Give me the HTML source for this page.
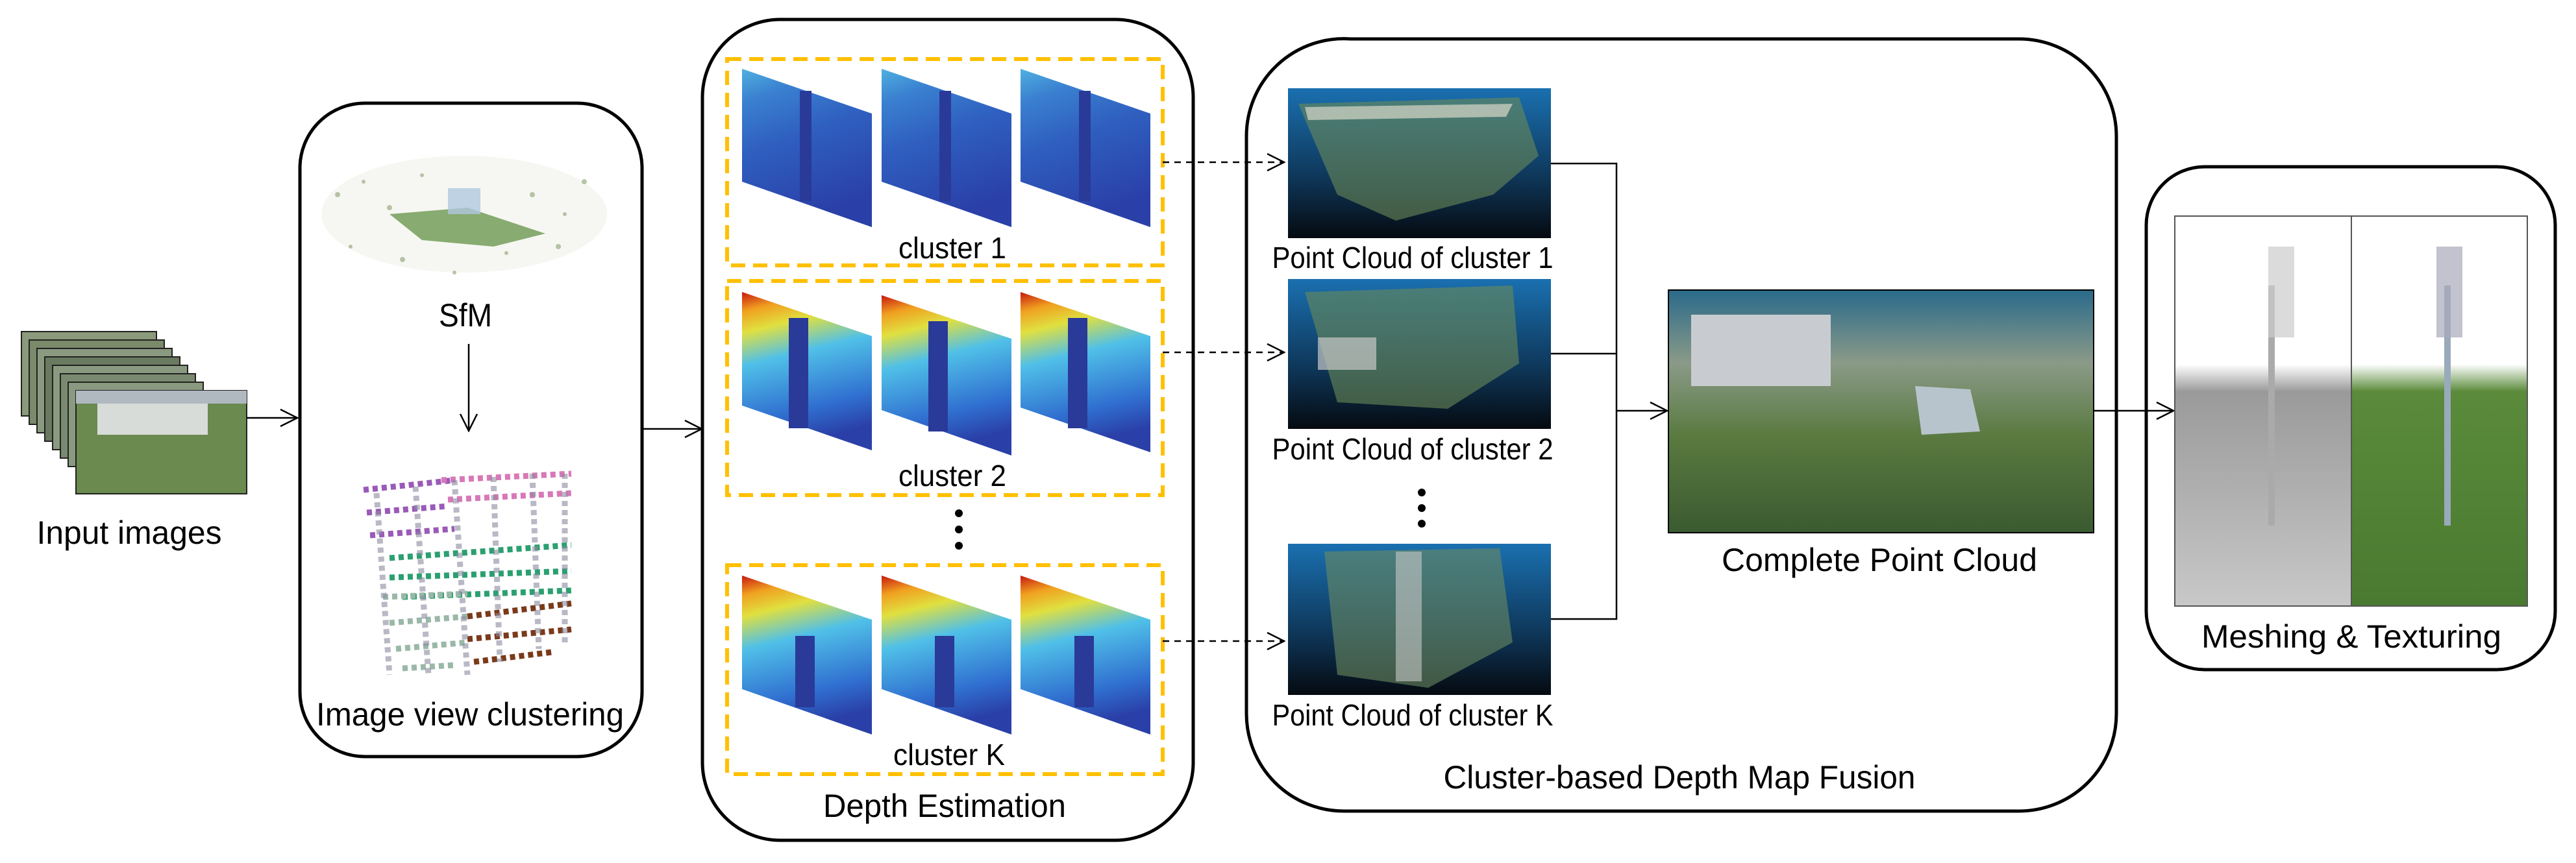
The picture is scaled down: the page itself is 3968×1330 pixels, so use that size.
<!DOCTYPE html>
<html><head><meta charset="utf-8"><style>html,body{margin:0;padding:0;background:#fff}svg{display:block}</style></head>
<body>
<svg width="3968" height="1330" viewBox="0 0 3968 1330" xmlns="http://www.w3.org/2000/svg" font-family="Liberation Sans, sans-serif">
<defs>
<linearGradient id="d1" x1="0" y1="0" x2="0.3" y2="1"><stop offset="0" stop-color="#50b0e0"/><stop offset="0.2" stop-color="#3a80d0"/><stop offset="0.5" stop-color="#2f5fc0"/><stop offset="1" stop-color="#2a40a8"/></linearGradient>
<linearGradient id="d2" x1="0" y1="0" x2="0.2" y2="1"><stop offset="0" stop-color="#c81810"/><stop offset="0.12" stop-color="#f0a020"/><stop offset="0.25" stop-color="#e0e040"/><stop offset="0.45" stop-color="#50c0e8"/><stop offset="0.8" stop-color="#3070d0"/><stop offset="1" stop-color="#2a40a8"/></linearGradient>
<linearGradient id="pc" x1="0" y1="0" x2="0" y2="1"><stop offset="0" stop-color="#1a70b0"/><stop offset="0.6" stop-color="#0e3658"/><stop offset="1" stop-color="#050a10"/></linearGradient>
<linearGradient id="cp" x1="0" y1="0" x2="0" y2="1"><stop offset="0" stop-color="#2a6a8a"/><stop offset="0.3" stop-color="#8a9a88"/><stop offset="0.6" stop-color="#5a7a40"/><stop offset="1" stop-color="#3a5a30"/></linearGradient>
<linearGradient id="mg" x1="0" y1="0" x2="0" y2="1"><stop offset="0" stop-color="#fff"/><stop offset="0.38" stop-color="#fff"/><stop offset="0.45" stop-color="#9a9a9a"/><stop offset="1" stop-color="#c8c8c8"/></linearGradient>
<linearGradient id="mt" x1="0" y1="0" x2="0" y2="1"><stop offset="0" stop-color="#fff"/><stop offset="0.38" stop-color="#fff"/><stop offset="0.45" stop-color="#5a8a3a"/><stop offset="1" stop-color="#4a7a30"/></linearGradient>
<marker id="ah" markerWidth="30" markerHeight="30" refX="28" refY="15" orient="auto" markerUnits="userSpaceOnUse"><path d="M2,2 L28,15 L2,28" fill="none" stroke="#000" stroke-width="2.5"/></marker>
</defs>

<g stroke="#222" stroke-width="2">
<rect x="33" y="511" width="208" height="130" fill="#8a9a7a"/>
<rect x="45" y="524" width="208" height="130" fill="#7a8a6a"/>
<rect x="57" y="537" width="208" height="130" fill="#8a9a80"/>
<rect x="69" y="550" width="208" height="130" fill="#6a7a60"/>
<rect x="81" y="563" width="208" height="130" fill="#8a9a80"/>
<rect x="93" y="576" width="208" height="130" fill="#7a8a70"/>
<rect x="105" y="589" width="208" height="130" fill="#8a9a80"/>
<rect x="117" y="602" width="263" height="159" fill="#6a8a50"/>
</g>
<rect x="150" y="620" width="170" height="50" fill="#d8dcd8"/>
<rect x="117" y="602" width="263" height="20" fill="#b0b8c0"/>
<text x="199" y="838" font-size="50" text-anchor="middle" textLength="285" lengthAdjust="spacingAndGlyphs">Input images</text>
<line x1="380" y1="644" x2="458" y2="644" stroke="#000" stroke-width="2.5" marker-end="url(#ah)"/>

<rect x="462" y="159" width="527" height="1007" rx="100" fill="none" stroke="#000" stroke-width="5"/>
<ellipse cx="715" cy="330" rx="220" ry="90" fill="#f6f7f2"/>
<g fill="#8aa070" opacity="0.6">
<circle cx="520" cy="300" r="4"/><circle cx="560" cy="280" r="3"/><circle cx="600" cy="320" r="4"/><circle cx="650" cy="270" r="3"/><circle cx="820" cy="300" r="4"/><circle cx="870" cy="330" r="3"/><circle cx="900" cy="280" r="4"/><circle cx="540" cy="380" r="3"/><circle cx="620" cy="400" r="4"/><circle cx="780" cy="390" r="3"/><circle cx="860" cy="380" r="4"/><circle cx="700" cy="420" r="3"/>
</g>
<path d="M600,330 L720,320 L840,360 L760,380 L650,370 Z" fill="#5a8a3a" opacity="0.7"/>
<rect x="690" y="290" width="50" height="40" fill="#b0c8e0" opacity="0.8"/>
<text x="717" y="503" font-size="50" text-anchor="middle" textLength="82" lengthAdjust="spacingAndGlyphs">SfM</text>
<line x1="722" y1="530" x2="722" y2="664" stroke="#000" stroke-width="2.5" marker-end="url(#ah)"/>
<g fill="none" stroke-width="9" stroke-dasharray="8 6">
<path d="M560 755 L700 740 M565 790 L690 780 M570 825 L700 815" stroke="#9a5ab8"/>
<path d="M680 740 L880 730 M690 770 L880 760" stroke="#d878b8"/>
<path d="M600 860 L880 840 M600 890 L880 880 M620 920 L880 910" stroke="#2aa070"/>
<path d="M590 920 L720 915 M600 960 L720 950 M610 1000 L720 990 M620 1030 L700 1025" stroke="#9ab8a8"/>
<path d="M720 950 L880 930 M720 985 L880 970 M730 1020 L850 1005" stroke="#7a3a1a"/>
<path d="M580 760 L600 1040 M640 750 L660 1040 M700 740 L720 1040 M760 735 L770 1020 M820 730 L830 1000 M870 730 L870 990" stroke="#8a8aa0" opacity="0.6"/>
</g>
<text x="724" y="1118" font-size="50" text-anchor="middle" textLength="474" lengthAdjust="spacingAndGlyphs">Image view clustering</text>
<line x1="989" y1="661" x2="1081" y2="661" stroke="#000" stroke-width="2.5" marker-end="url(#ah)"/>

<rect x="1082" y="30" width="756" height="1265" rx="120" fill="none" stroke="#000" stroke-width="5"/>
<g fill="none" stroke="#FFC000" stroke-width="6" stroke-dasharray="22 12">
<rect x="1120" y="91" width="671" height="318"/>
<rect x="1120" y="433" width="671" height="330"/>
<rect x="1120" y="871" width="671" height="322"/>
</g>
<g>
<polygon points="1143,106 1343,175 1343,350 1143,280" fill="url(#d1)"/>
<polygon points="1358,106 1558,175 1558,350 1358,280" fill="url(#d1)"/>
<polygon points="1572,106 1772,175 1772,350 1572,280" fill="url(#d1)"/>
<polygon points="1143,450 1343,518 1343,694 1143,625" fill="url(#d2)"/>
<polygon points="1358,455 1558,522 1558,702 1358,632" fill="url(#d2)"/>
<polygon points="1572,450 1772,518 1772,697 1572,628" fill="url(#d2)"/>
<polygon points="1143,887 1343,955 1343,1132 1143,1062" fill="url(#d2)"/>
<polygon points="1358,887 1558,955 1558,1132 1358,1062" fill="url(#d2)"/>
<polygon points="1572,887 1772,955 1772,1132 1572,1062" fill="url(#d2)"/>
<g fill="#2a3a98"><rect x="1232" y="140" width="18" height="170"/><rect x="1447" y="140" width="18" height="170"/><rect x="1662" y="140" width="18" height="170"/>
<rect x="1215" y="490" width="30" height="170"/><rect x="1430" y="495" width="30" height="170"/><rect x="1645" y="490" width="30" height="170"/>
<rect x="1225" y="980" width="30" height="110"/><rect x="1440" y="980" width="30" height="110"/><rect x="1655" y="980" width="30" height="110"/></g>
</g>
<text x="1467" y="398" font-size="46" text-anchor="middle" textLength="166" lengthAdjust="spacingAndGlyphs">cluster 1</text>
<text x="1467" y="749" font-size="46" text-anchor="middle" textLength="166" lengthAdjust="spacingAndGlyphs">cluster 2</text>
<text x="1462" y="1179" font-size="46" text-anchor="middle" textLength="172" lengthAdjust="spacingAndGlyphs">cluster K</text>
<g fill="#000"><circle cx="1477" cy="791" r="6"/><circle cx="1477" cy="816" r="6"/><circle cx="1477" cy="841" r="6"/></g>
<text x="1455" y="1259" font-size="50" text-anchor="middle" textLength="374" lengthAdjust="spacingAndGlyphs">Depth Estimation</text>
<g stroke="#000" stroke-width="2.5" stroke-dasharray="10 8">
<line x1="1791" y1="250" x2="1978" y2="250" marker-end="url(#ah)"/>
<line x1="1791" y1="543" x2="1978" y2="543" marker-end="url(#ah)"/>
<line x1="1791" y1="988" x2="1978" y2="988" marker-end="url(#ah)"/>
</g>

<path d="M2080,60 L3110,60 A150,150 0 0 1 3260,210 L3260,1100 A150,150 0 0 1 3110,1250 L2070,1250 A150,150 0 0 1 1920,1100 L1920,210 A150,150 0 0 1 2080,60 Z" fill="none" stroke="#000" stroke-width="5"/>
<rect x="1984" y="136" width="405" height="231" fill="url(#pc)"/>
<path d="M2000,160 L2340,150 L2370,240 L2300,300 L2150,340 L2060,300 Z" fill="#6a8a58" opacity="0.6"/>
<path d="M2010,165 L2330,160 L2320,180 L2015,185 Z" fill="#d8d8c8" opacity="0.7"/>
<rect x="1984" y="430" width="405" height="231" fill="url(#pc)"/>
<path d="M2010,450 L2330,440 L2340,560 L2230,630 L2060,620 Z" fill="#6a8a58" opacity="0.6"/>
<rect x="2030" y="520" width="90" height="50" fill="#c8c8c8" opacity="0.7"/>
<rect x="1984" y="838" width="405" height="233" fill="url(#pc)"/>
<path d="M2040,850 L2310,845 L2330,990 L2200,1060 L2060,1040 Z" fill="#6a8a60" opacity="0.6"/>
<rect x="2150" y="850" width="40" height="200" fill="#c8c8c8" opacity="0.6"/>
<text x="2176" y="413" font-size="46" text-anchor="middle" textLength="433" lengthAdjust="spacingAndGlyphs">Point Cloud of cluster 1</text>
<text x="2176" y="708" font-size="46" text-anchor="middle" textLength="433" lengthAdjust="spacingAndGlyphs">Point Cloud of cluster 2</text>
<text x="2176" y="1118" font-size="46" text-anchor="middle" textLength="433" lengthAdjust="spacingAndGlyphs">Point Cloud of cluster K</text>
<g fill="#000"><circle cx="2190" cy="759" r="6"/><circle cx="2190" cy="783" r="6"/><circle cx="2190" cy="807" r="6"/></g>
<g stroke="#000" stroke-width="2.5" fill="none">
<polyline points="2389,252 2490,252 2490,954 2389,954"/>
<line x1="2389" y1="545" x2="2490" y2="545"/>
<line x1="2490" y1="633" x2="2568" y2="633" marker-end="url(#ah)"/>
</g>
<rect x="2570" y="447" width="655" height="374" fill="url(#cp)" stroke="#000" stroke-width="2"/>
<rect x="2605" y="485" width="215" height="110" fill="#c8ccd0"/>
<polygon points="2950,595 3035,600 3050,665 2960,670" fill="#b8c4cc"/>
<text x="2895" y="880" font-size="50" text-anchor="middle" textLength="486" lengthAdjust="spacingAndGlyphs">Complete Point Cloud</text>
<text x="2587" y="1215" font-size="50" text-anchor="middle" textLength="727" lengthAdjust="spacingAndGlyphs">Cluster-based Depth Map Fusion</text>
<line x1="3225" y1="633" x2="3348" y2="633" stroke="#000" stroke-width="2.5" marker-end="url(#ah)"/>

<rect x="3306" y="257" width="630" height="775" rx="90" fill="none" stroke="#000" stroke-width="5"/>
<rect x="3350" y="333" width="272" height="601" fill="url(#mg)" stroke="#555" stroke-width="2"/>
<rect x="3622" y="333" width="271" height="601" fill="url(#mt)" stroke="#555" stroke-width="2"/>
<rect x="3494" y="440" width="10" height="370" fill="#aaa"/>
<rect x="3494" y="380" width="40" height="140" fill="#ccc" opacity="0.7"/>
<rect x="3765" y="440" width="10" height="370" fill="#9ab"/>
<rect x="3753" y="380" width="40" height="140" fill="#aab" opacity="0.7"/>
<text x="3622" y="998" font-size="50" text-anchor="middle" textLength="462" lengthAdjust="spacingAndGlyphs">Meshing &amp; Texturing</text>
</svg>
</body></html>
